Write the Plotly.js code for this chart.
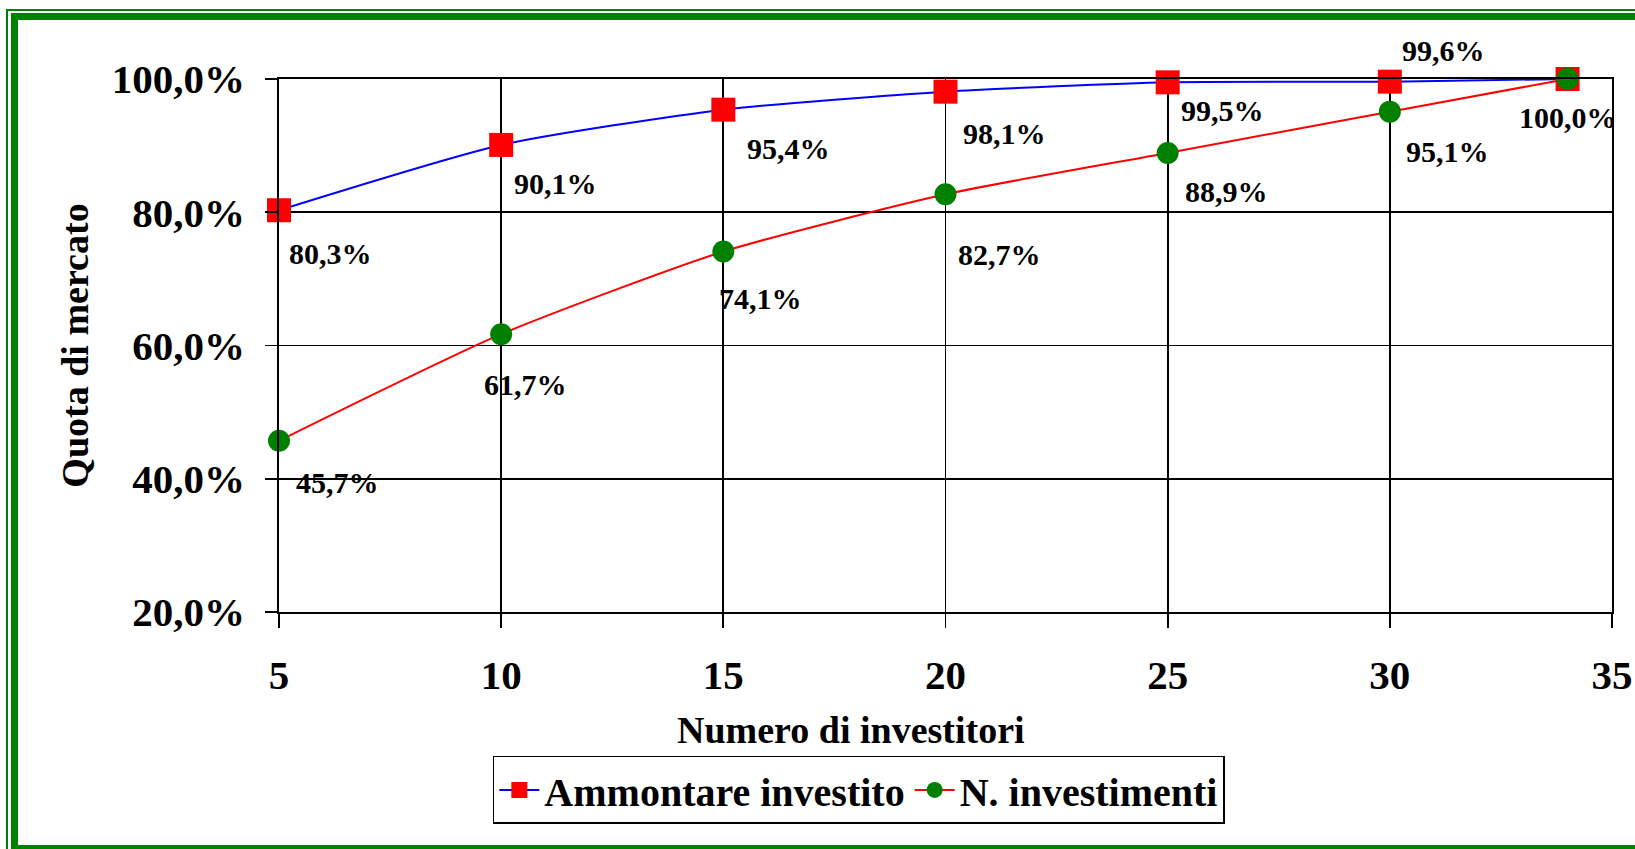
<!DOCTYPE html>
<html>
<head>
<meta charset="utf-8">
<script src="https://cdn.plot.ly/plotly-3.0.1.min.js"></script>
<style>
  html, body { margin: 0; padding: 0; background: #ffffff; overflow: hidden; }
  #wrap { position: relative; width: 1635px; height: 849px; }
  #chart { position: absolute; left: 0; top: 0; width: 1635px; height: 849px; }
  .frame { position: absolute; pointer-events: none; box-sizing: border-box; }
  #frameThin { left: 6px; top: 9px; width: 1700px; height: 900px; border: 2px solid #008000; }
  #frameThick { left: 11px; top: 13px; width: 1700px; height: 839px; border: 7px solid #008000; }
</style>
</head>
<body>
<div id="wrap">
  <div id="chart"></div>
  <div class="frame" id="frameThin"></div>
  <div class="frame" id="frameThick"></div>
</div>
<script>
// ---- data ----
const investitori = [5, 10, 15, 20, 25, 30, 34];
const ammontareInvestito = [80.3, 90.1, 95.4, 98.1, 99.5, 99.6, 100.0];
const nInvestimenti = [45.7, 61.7, 74.1, 82.7, 88.9, 95.1, 100.0];
const seriesNames = ['Ammontare investito', 'N. investimenti'];
const yTicks = [20, 40, 60, 80, 100];
const xTicks = [5, 10, 15, 20, 25, 30, 35];
const xTitle = 'Numero di investitori';
const yTitle = 'Quota di mercato';

// ---- styling ----
const fmt = v => v.toFixed(1).replace('.', ',') + '%';
const FONT = 'Liberation Serif, Times New Roman, serif';
const LABEL_FONT = { family: FONT, size: 30, color: '#000000', weight: 700 };

// label placement (pixel offsets from each marker: [dx, dy, xanchor]); null = no label
const placeA = [[8, -43, 'left'], [11, -39, 'left'], [22, -39, 'left'], [15, -42, 'left'],
                [11, -28, 'left'], [10, 31, 'left'], [0, -38, 'center']];
const placeB = [[15, -42, 'left'], [-19, -50, 'left'], [-6, -47, 'left'], [10, -60, 'left'],
                [15, -39, 'left'], [14, -40, 'left'], null];

const traceA = {
  type: 'scatter',
  mode: 'lines+markers',
  name: seriesNames[0],
  x: investitori,
  y: ammontareInvestito,
  line: { color: '#0000FF', width: 2, shape: 'spline', smoothing: 0.6 },
  marker: { symbol: 'square', size: 24, color: '#FF0000' },
  cliponaxis: false
};

const traceB = {
  type: 'scatter',
  mode: 'lines+markers',
  name: seriesNames[1],
  x: investitori,
  y: nInvestimenti,
  line: { color: '#FF0000', width: 2, shape: 'spline', smoothing: 0.6 },
  marker: { symbol: 'circle', size: 22, color: '#008000' },
  cliponaxis: false
};

const annotations = [];
function addLabels(xs, ys, places) {
  xs.forEach((x, i) => {
    const p = places[i];
    if (!p) return;
    annotations.push({
      xref: 'x', yref: 'y', x: x, y: ys[i],
      text: fmt(ys[i]), showarrow: false,
      xanchor: p[2], yanchor: 'middle',
      xshift: p[0], yshift: p[1],
      font: LABEL_FONT
    });
  });
}
addLabels(investitori, ammontareInvestito, placeA);
addLabels(investitori, nInvestimenti, placeB);

annotations.push({
  xref: 'paper', yref: 'paper', x: 0.429, y: -0.221,
  xanchor: 'center', yanchor: 'middle', showarrow: false,
  text: xTitle,
  font: { family: FONT, size: 38, color: '#000000', weight: 700 }
});

const layout = {
  width: 1635,
  height: 849,
  margin: { l: 279, r: 23, t: 79, b: 237 },
  paper_bgcolor: '#ffffff',
  plot_bgcolor: '#ffffff',
  font: { family: FONT, color: '#000000', weight: 700 },
  showlegend: true,
  legend: {
    orientation: 'h',
    x: 0.435, xanchor: 'center',
    y: -0.27, yanchor: 'top',
    bgcolor: '#ffffff',
    bordercolor: '#000000',
    borderwidth: 1.5,
    font: { family: FONT, size: 40, color: '#000000', weight: 700 },
    itemwidth: 40
  },
  annotations: annotations,
  xaxis: {
    range: [5, 35],
    tickvals: xTicks,
    showgrid: true, gridcolor: '#000000', gridwidth: 1.8,
    zeroline: false,
    showline: true, mirror: true, linecolor: '#000000', linewidth: 1.8,
    ticks: 'outside', ticklen: 14, tickwidth: 1.8, tickcolor: '#000000',
    ticklabelstandoff: 12,
    tickfont: { family: FONT, size: 41, color: '#000000', weight: 700 }
  },
  yaxis: {
    range: [20, 100],
    tickvals: yTicks,
    ticktext: yTicks.map(fmt),
    showgrid: true, gridcolor: '#000000', gridwidth: 1.8,
    zeroline: false,
    showline: true, mirror: true, linecolor: '#000000', linewidth: 1.8,
    ticks: 'outside', ticklen: 12, tickwidth: 1.8, tickcolor: '#000000',
    ticklabelstandoff: 12,
    tickfont: { family: FONT, size: 41, color: '#000000', weight: 700 },
    title: { text: yTitle, standoff: 11,
             font: { family: FONT, size: 38, color: '#000000', weight: 700 } }
  }
};

Plotly.newPlot('chart', [traceA, traceB], layout, { displayModeBar: false, staticPlot: true });
</script>
</body>
</html>
